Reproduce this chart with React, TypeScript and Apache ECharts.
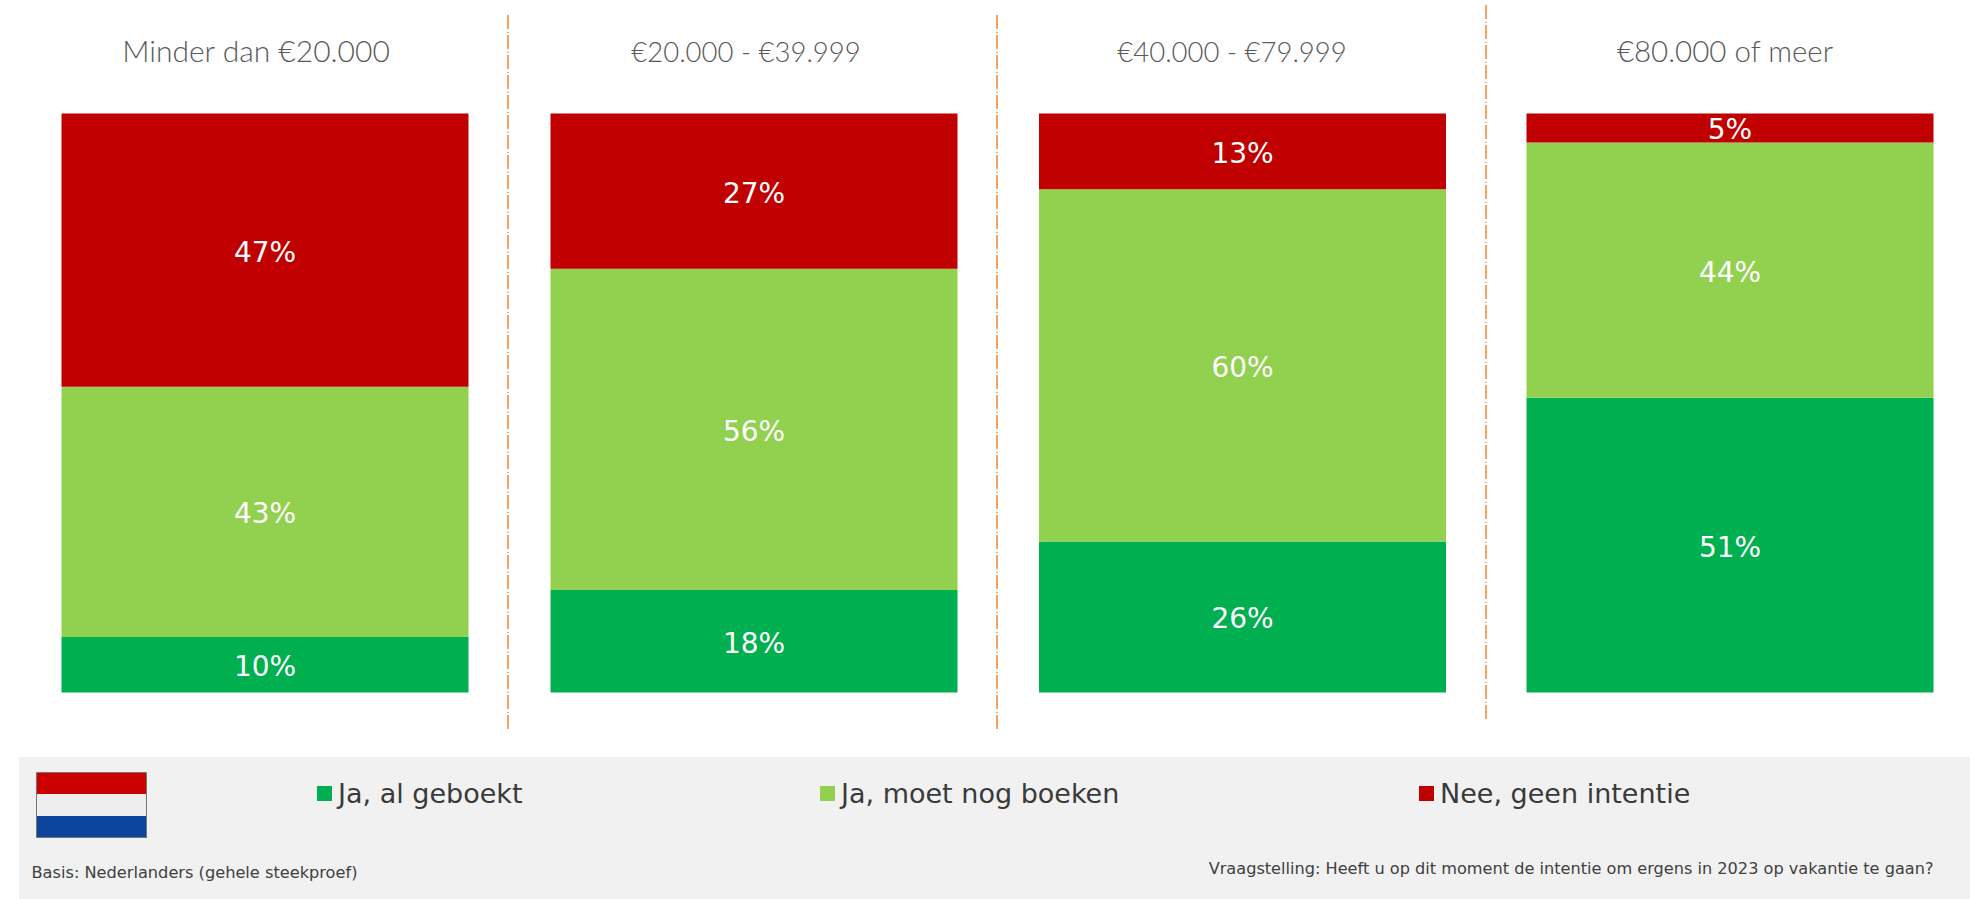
import React, { useEffect, useRef } from "react";
import * as echarts from "echarts";

const incomeGroups = ["Minder dan €20.000", "€20.000 - €39.999", "€40.000 - €79.999", "€80.000 of meer"];
const seriesNames = ["Ja, al geboekt", "Ja, moet nog boeken", "Nee, geen intentie"];
// bar heights
const geboekt = [9.6, 17.7, 26.1, 50.9];
const nogBoeken = [43.2, 55.5, 60.8, 44.1];
const geenIntentie = [47.2, 26.8, 13.1, 5.0];
// printed labels
const geboektLabels = ["10%", "18%", "26%", "51%"];
const nogBoekenLabels = ["43%", "56%", "60%", "44%"];
const geenIntentieLabels = ["47%", "27%", "13%", "5%"];
const colors = ["#00B050", "#92D050", "#C00000"];
const basisText = "Basis: Nederlanders (gehele steekproef)";
const vraagText = "Vraagstelling: Heeft u op dit moment de intentie om ergens in 2023 op vakantie te gaan?";

const FONT = "'DejaVu Sans', Verdana, sans-serif";
const barLefts = [61.5, 550.5, 1039, 1526.5];
const barWidth = 407;
const barTop = 113.5;
const barBottom = 692.5;
const titleCentres = [251, 741, 1227, 1720];
const titleSizes = [30, 27.5, 27.5, 29.5];
const titleTops = [30, 32, 32, 30];
const separators = [
  { x: 508, y1: 15, y2: 730 },
  { x: 997, y1: 15, y2: 730 },
  { x: 1486, y1: 5, y2: 722 },
];

export default function App() {
  const ref = useRef<HTMLDivElement>(null);
  useEffect(() => {
    const chart = echarts.init(ref.current!, null, { renderer: "svg" });
    const values = [geboekt, nogBoeken, geenIntentie];
    const labels = [geboektLabels, nogBoekenLabels, geenIntentieLabels];
    const series: any[] = [];
    incomeGroups.forEach((g, i) => {
      seriesNames.forEach((name, s) => {
        series.push({
          type: "bar",
          name,
          stack: "s" + i,
          xAxisIndex: i,
          yAxisIndex: i,
          barWidth: "100%",
          itemStyle: { color: colors[s] },
          label: {
            show: true,
            position: "inside",
            offset: [0, 2],
            color: "#fff",
            fontFamily: FONT,
            fontSize: 28,
            formatter: () => labels[s][i],
          },
          data: [values[s][i]],
        });
      });
    });
    const stripe = (y: number, h: number, fill: string) => ({
      type: "rect",
      shape: { x: 37, y, width: 110, height: h },
      style: { fill },
    });
    chart.setOption({
      animation: false,
      backgroundColor: "#fff",
      title: incomeGroups.map((g, i) => ({
        text: g,
        left: titleCentres[i],
        top: titleTops[i],
        textAlign: "center",
        textStyle: { fontFamily: "Lato", fontWeight: 300, fontSize: titleSizes[i], color: "#595959" },
      })),
      grid: barLefts.map((l) => ({ left: l, width: barWidth, top: barTop, height: barBottom - barTop })),
      xAxis: incomeGroups.map((g, i) => ({ type: "category", gridIndex: i, data: [g], show: false })),
      yAxis: incomeGroups.map((g, i) => ({
        type: "value",
        gridIndex: i,
        min: 0,
        max: geboekt[i] + nogBoeken[i] + geenIntentie[i],
        show: false,
      })),
      legend: seriesNames.map((n, i) => ({
        data: [n],
        left: [317, 820, 1419][i],
        top: 780,
        padding: 0,
        itemWidth: 15,
        itemHeight: 15,
        icon: "rect",
        textStyle: { fontFamily: FONT, fontSize: 27, color: "#3A3A3A", padding: [0, 0, 0, 1] },
      })),
      series,
      graphic: [
        { type: "rect", z: 0, shape: { x: 19, y: 757, width: 1951, height: 142 }, style: { fill: "#F1F1F1" } },
        stripe(773, 21, "#CC0000"),
        stripe(794, 22, "#EEEEEE"),
        stripe(816, 22, "#0D459C"),
        {
          type: "rect",
          shape: { x: 36.5, y: 772.5, width: 110, height: 65 },
          style: { fill: "none", stroke: "#777", lineWidth: 1 },
        },
        ...separators.map((s) => ({
          type: "line",
          shape: { x1: s.x, y1: s.y1, x2: s.x, y2: s.y2 },
          style: { stroke: "#F07010", lineWidth: 1.3, lineDash: [14, 3, 1, 2] },
        })),
        {
          type: "text",
          x: 31.5,
          y: 864,
          style: { text: basisText, fontFamily: FONT, fontSize: 16.2, fill: "#404040" },
        },
        {
          type: "text",
          x: 1933.5,
          y: 860,
          style: { text: vraagText, fontFamily: FONT, fontSize: 16.15, fill: "#404040", textAlign: "right" },
        },
      ],
    });
    return () => chart.dispose();
  }, []);
  return <div ref={ref} style={{ position: "fixed", left: 0, top: 0, width: 1970, height: 899 }} />;
}
